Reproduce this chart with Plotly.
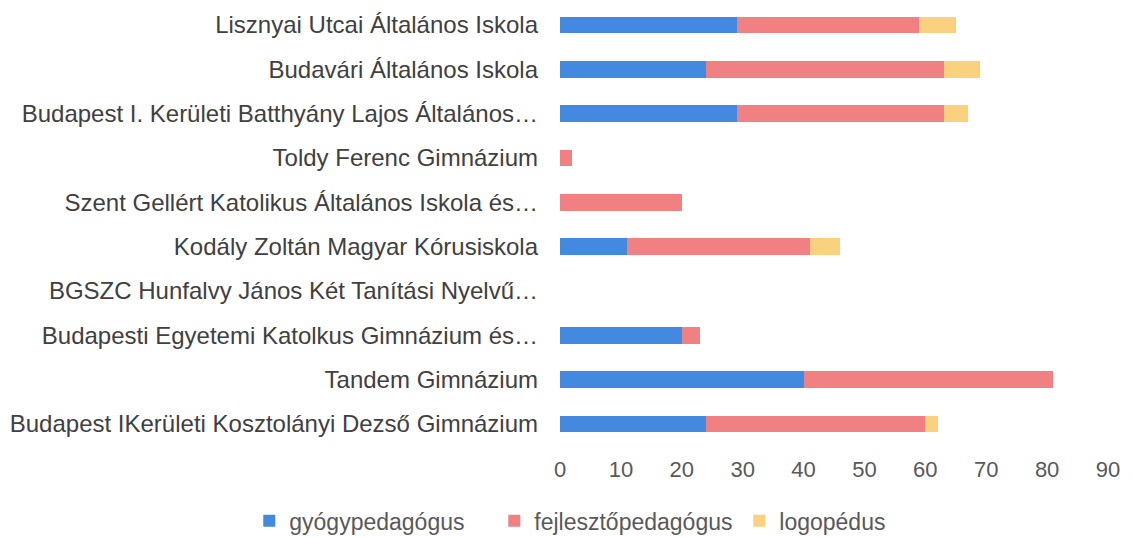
import plotly.graph_objects as go

schools = [
    "Lisznyai Utcai Általános Iskola",
    "Budavári Általános Iskola",
    "Budapest I. Kerületi Batthyány Lajos Általános…",
    "Toldy Ferenc Gimnázium",
    "Szent Gellért Katolikus Általános Iskola és…",
    "Kodály Zoltán Magyar Kórusiskola",
    "BGSZC Hunfalvy János Két Tanítási Nyelvű…",
    "Budapesti Egyetemi Katolkus Gimnázium és…",
    "Tandem Gimnázium",
    "Budapest IKerületi Kosztolányi Dezső Gimnázium",
]
gyogypedagogus = [29, 24, 29, 0, 0, 11, 0, 20, 40, 24]
fejlesztopedagogus = [30, 39, 34, 2, 20, 30, 0, 3, 41, 36]
logopedus = [6, 6, 4, 0, 0, 5, 0, 0, 0, 2]
x_ticks = [0, 10, 20, 30, 40, 50, 60, 70, 80, 90]

series = [
    ("gyógypedagógus", gyogypedagogus, "#4389e0"),
    ("fejlesztőpedagógus", fejlesztopedagogus, "#f08082"),
    ("logopédus", logopedus, "#fad27f"),
]

fig = go.Figure()
for name, vals, color in series:
    fig.add_trace(go.Bar(
        y=schools, x=vals, name=name, orientation="h",
        marker=dict(color=color, line=dict(width=0)),
    ))

font = "Liberation Sans"
fig.update_layout(
    barmode="stack",
    bargap=0.62,
    width=1133, height=537,
    margin=dict(l=552, r=33, t=0, b=99),
    paper_bgcolor="white",
    plot_bgcolor="white",
    font=dict(family=font, size=23, color="#404040"),
    xaxis=dict(
        range=[0, 90], tickvals=x_ticks, showgrid=False, zeroline=False,
        showline=False, ticklabelstandoff=8, automargin=False,
        tickfont=dict(size=22, color="#595959"),
    ),
    yaxis=dict(
        range=[9.497, -0.384], showgrid=False, zeroline=False, showline=False,
        ticklabelstandoff=21, automargin=False,
        tickfont=dict(size=24, color="#404040"),
    ),
    legend=dict(
        orientation="h", x=-0.567, xanchor="left", y=-0.171, yanchor="middle",
        font=dict(size=23, color="#595959"), itemwidth=30,
        entrywidth=200, entrywidthmode="pixels",
        traceorder="normal",
    ),
)

fig.write_html("out.html")
